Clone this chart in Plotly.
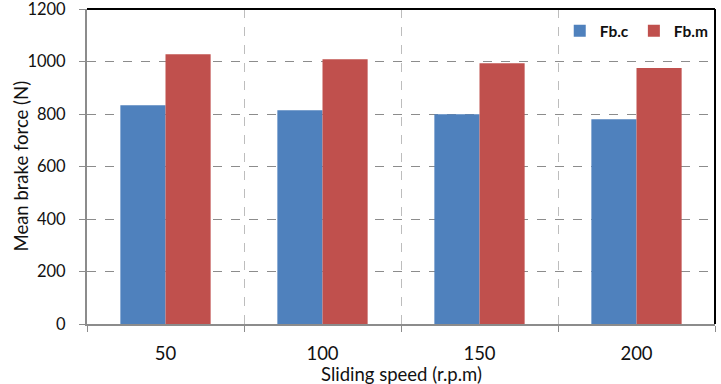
import plotly.graph_objects as go

categories = ["50", "100", "150", "200"]
fb_c = [833, 814, 799, 780]
fb_m = [1028, 1009, 993, 975]
y_ticks = [0, 200, 400, 600, 800, 1000, 1200]
x_title = "Sliding speed (r.p.m)"
y_title = "Mean brake force (N)"

xpos = list(range(len(categories)))
font_family = "Lato, Open Sans, sans-serif"

fig = go.Figure()
fig.add_trace(go.Bar(x=xpos, y=fb_c, name="Fb.c", marker=dict(color="#4F81BD", line=dict(width=0))))
fig.add_trace(go.Bar(x=xpos, y=fb_m, name="Fb.m", marker=dict(color="#C0504D", line=dict(width=0))))

fig.update_layout(
    width=721, height=384,
    margin=dict(l=87, r=6, t=9, b=60, autoexpand=False),
    paper_bgcolor="white", plot_bgcolor="white",
    barmode="group", bargap=0.425, bargroupgap=0,
    font=dict(family=font_family, size=15, color="#111"),
    legend=dict(orientation="h", x=0.998, xanchor="right", y=0.93, yanchor="middle",
                font=dict(size=15.5, color="#111", family=font_family, weight="bold"),
                bgcolor="rgba(0,0,0,0)", itemwidth=30, tracegroupgap=0),
    showlegend=True,
)

fig.update_xaxes(
    automargin=False,
    range=[-0.5, len(categories) - 0.5],
    tickvals=xpos, ticktext=categories, ticks="",
    showgrid=False, zeroline=False,
    showline=True, linecolor="#8c8c8c", linewidth=2, mirror=False,
    minor=dict(tickvals=[i - 0.5 for i in range(len(categories) + 1)], showgrid=True,
               gridcolor="#bdbdbd", griddash="dash", gridwidth=1,
               ticks="outside", ticklen=6, tickcolor="#8c8c8c", tickwidth=1),
    ticklabelstandoff=12,
    tickfont=dict(size=18.5),
)
fig.update_yaxes(
    automargin=False,
    range=[0, 1200], tickvals=y_ticks,
    showgrid=True, gridcolor="#8c8c8c", griddash="dash", gridwidth=1,
    zeroline=False, showline=True, linecolor="#8c8c8c", linewidth=2,
    ticks="outside", ticklen=6, tickcolor="#8c8c8c",
    ticklabelstandoff=10, ticklabeloverflow="allow",
    tickfont=dict(size=16.5),
)

# axis titles as annotations for exact placement
fig.add_annotation(text=x_title, xref="paper", yref="paper", x=0.5, y=0, yshift=-50,
                   xanchor="center", yanchor="middle", showarrow=False,
                   font=dict(size=18.5, color="#111"))
fig.add_annotation(text=y_title, xref="paper", yref="paper", x=0, xshift=-67, y=0.5,
                   xanchor="center", yanchor="middle", textangle=-90, showarrow=False,
                   font=dict(size=18.5, color="#111"))

# black top/right plot border
fig.add_shape(type="line", xref="paper", yref="paper", x0=0, x1=1, y0=1, y1=1,
              line=dict(color="black", width=2))
fig.add_shape(type="line", xref="paper", yref="paper", x0=1, x1=1, y0=0, y1=1,
              line=dict(color="black", width=2))

fig.write_html("out.html")
